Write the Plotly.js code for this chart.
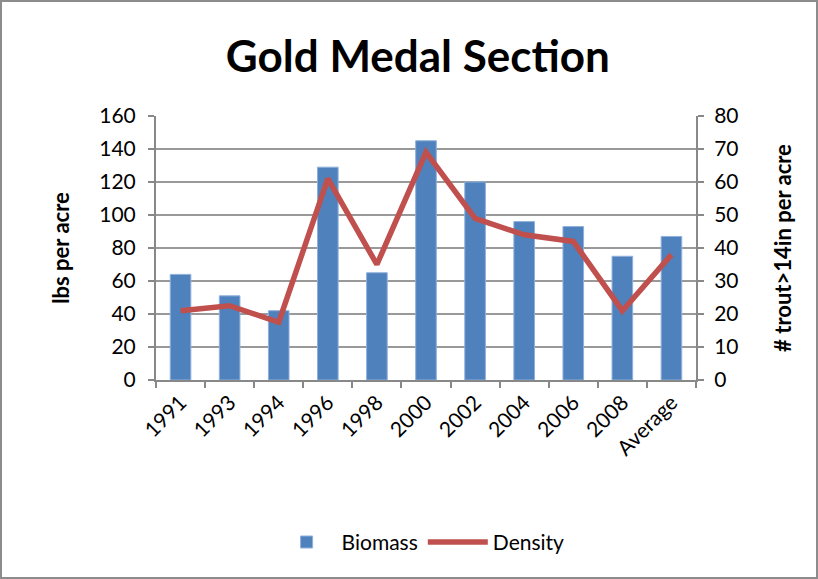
<!DOCTYPE html>
<html>
<head>
<meta charset="utf-8">
<script src="https://cdn.plot.ly/plotly-3.0.1.min.js"></script>
<style>
html,body{margin:0;padding:0;background:#fff;}
#chart{width:818px;height:579px;box-sizing:border-box;border:2px solid #8c8c8c;}
</style>
</head>
<body>
<div id="chart"></div>
<script>
var categories = ["1991","1993","1994","1996","1998","2000","2002","2004","2006","2008","Average"];
var biomass = [64, 51, 42, 129, 65, 145, 120, 96, 93, 75, 87];
var density = [21, 22.5, 17.5, 61, 35, 69, 49, 44, 42, 21, 38];

var fontFam = "Lato, 'Open Sans', sans-serif";

var traces = [
  {
    type: "bar", name: "Biomass", x: categories, y: biomass,
    marker: {color: "#4F81BD", line: {color: "#8fb0dc", width: 1}},
    yaxis: "y"
  },
  {
    type: "scatter", mode: "lines", name: "Density", x: categories, y: density,
    line: {color: "#C0504D", width: 5.5},
    yaxis: "y2"
  }
];

var layout = {
  width: 814, height: 575,
  margin: {l: 154, r: 120, t: 114, b: 197},
  paper_bgcolor: "#fff", plot_bgcolor: "#fff",
  font: {family: fontFam, size: 21, color: "#000"},
  title: {text: "<b>Gold Medal Section</b>", font: {family: fontFam, size: 44, color: "#000"},
          x: 0.485, xref: "paper", xanchor: "center", y: 0.905, yanchor: "middle"},
  bargap: 0.58,
  showlegend: true,
  legend: {orientation: "h", x: 0.49, xanchor: "center", xref: "paper", y: -0.615, yanchor: "middle",
           font: {size: 21}, itemwidth: 60},
  xaxis: {
    type: "category", showline: true, linecolor: "#888", linewidth: 2,
    ticks: "outside", tickson: "boundaries", ticklen: 6, tickcolor: "#888", tickwidth: 2,
    tickangle: -45, tickfont: {size: 21}, showgrid: false
  },
  yaxis: {
    range: [0, 160], dtick: 20, showline: true, linecolor: "#888", linewidth: 2,
    ticks: "outside", ticklen: 6, tickcolor: "#888", tickwidth: 2, ticklabelstandoff: 8,
    showgrid: true, gridcolor: "#999", gridwidth: 2, zeroline: false,
    tickfont: {size: 21},
    title: {text: "<b>lbs per acre</b>", font: {size: 22}, standoff: 24}
  },
  yaxis2: {
    range: [0, 80], dtick: 10, overlaying: "y", side: "right", showline: true, linecolor: "#888", linewidth: 2,
    ticks: "outside", ticklen: 6, tickcolor: "#888", tickwidth: 2, ticklabelstandoff: 6,
    showgrid: false, zeroline: false, tickfont: {size: 21},
    title: {text: "<b># trout>14in per acre</b>", font: {size: 22}, standoff: 38}
  }
};

Plotly.newPlot("chart", traces, layout, {displayModeBar: false, staticPlot: true});
</script>
</body>
</html>
